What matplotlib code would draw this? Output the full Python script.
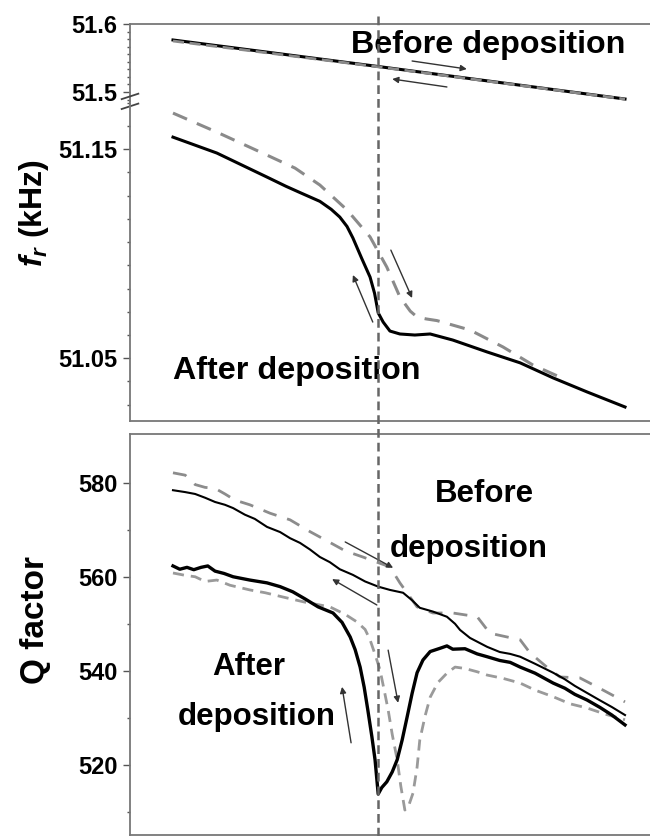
import numpy as np
import matplotlib
matplotlib.use("Agg")
import matplotlib.pyplot as plt
from matplotlib.lines import Line2D
from matplotlib.transforms import blended_transform_factory

plt.rcParams['font.family'] = ['Liberation Sans', 'DejaVu Sans']
plt.rcParams['font.weight'] = 'bold'
plt.rcParams['mathtext.fontset'] = 'custom'
plt.rcParams['mathtext.it'] = 'Liberation Sans:italic:bold'
plt.rcParams['mathtext.rm'] = 'Liberation Sans:bold'

# sweep position (arbitrary units) and transition point
x_transition = 45.4

# resonance frequency (kHz), before deposition: both sweep directions
x_fr_before = [0, 45.4, 100]
fr_before_down = [51.5765, 51.5375, 51.4897]
fr_before_up = [51.5750, 51.5370, 51.4895]

# resonance frequency (kHz), after deposition
x_fr_after_cool = [0, 9.7, 20.8, 25.0, 28.1, 32.5, 35.0, 36.9, 38.5, 39.8, 41.8,
                   43.6, 44.6, 45.4, 46.5, 47.3, 48.0, 50.2, 53.5, 56.9, 61.9,
                   69.5, 76.8, 84.1, 91.6, 100]
fr_after_cool = [51.1557, 51.1481, 51.1366, 51.1322, 51.1292, 51.1250, 51.1212,
                 51.1175, 51.1130, 51.1075, 51.0975, 51.0888, 51.0810, 51.0717,
                 51.0673, 51.0650, 51.0630, 51.0616, 51.0611, 51.0616, 51.0587,
                 51.0530, 51.0478, 51.0406, 51.0339, 51.0267]
x_fr_after_heat = [0, 9.7, 20.8, 27.0, 32.5, 38.5, 43.6, 47.3, 50.2, 52.5, 54.0,
                   56.0, 58.4, 65.7, 73.0, 79.6, 85.6]
fr_after_heat = [51.1672, 51.1581, 51.1471, 51.1409, 51.1328, 51.1209, 51.1080,
                 51.0936, 51.0793, 51.0725, 51.0697, 51.0688, 51.0680, 51.0635,
                 51.0554, 51.0468, 51.0410]

# Q factor before deposition
x_q_before_cool = [0, 2.7, 4.9, 7.1, 9.3, 11.5, 13.3, 15.9, 18.1, 20.8, 23.7, 25.9,
                   28.1, 30.3, 32.5, 34.7, 36.9, 39.8, 42.5, 45.4, 48.0, 50.9, 52.9,
                   54.6, 57.5, 60.6, 62.4, 63.5, 65.7, 69.5, 72.3, 74.6, 76.8, 80.1,
                   84.1, 86.7, 88.9, 91.6, 94.5, 97.1, 100]
q_before_cool = [578.4, 578.0, 577.6, 576.8, 575.9, 575.3, 574.6, 573.2, 572.3,
                 570.6, 569.5, 568.2, 567.2, 565.8, 564.2, 563.1, 561.6, 560.4,
                 559.0, 557.9, 557.2, 556.6, 555.0, 553.4, 552.6, 551.5, 550.0,
                 548.7, 547.0, 545.1, 544.0, 543.6, 543.0, 541.5, 539.6, 538.2,
                 536.8, 535.3, 533.7, 532.3, 530.6]
x_q_before_heat = [0, 2.7, 4.9, 7.1, 9.3, 11.5, 13.7, 17.0, 21.5, 25.9, 30.3, 34.7,
                   38.1, 42.0, 45.4, 48.0, 50.2, 54.0, 57.5, 61.9, 67.3, 70.1, 73.9,
                   76.8, 79.0, 82.7, 85.6, 90.0, 93.8, 100]
q_before_heat = [582.1, 581.6, 579.6, 579.0, 578.8, 577.6, 576.3, 575.3, 573.5,
                 572.1, 569.6, 567.3, 565.5, 564.2, 563.0, 562.1, 558.7, 553.6,
                 552.3, 552.3, 551.5, 548.0, 547.2, 546.6, 543.8, 540.8, 538.7,
                 538.5, 536.6, 533.4]

# Q factor after deposition
x_q_after_cool = [0, 1.5, 3.1, 4.6, 6.2, 7.7, 9.3, 11.3, 13.3, 17.0, 20.8, 23.7,
                  26.5, 29.2, 32.1, 35.4, 37.4, 39.2, 40.3, 41.4, 42.3, 43.1, 44.0,
                  44.7, 45.4, 46.2, 47.3, 48.5, 49.6, 50.7, 51.8, 52.9, 54.0, 55.3,
                  56.9, 59.1, 60.6, 61.9, 64.6, 67.3, 69.5, 72.3, 74.6, 76.8, 80.1,
                  84.1, 86.7, 88.9, 91.6, 94.5, 97.1, 100]
q_after_cool = [562.3, 561.6, 562.0, 561.5, 562.0, 562.3, 561.2, 560.7, 560.0,
                559.3, 558.7, 557.9, 556.8, 555.3, 553.6, 552.3, 550.3, 547.2,
                544.5, 540.8, 536.5, 531.7, 526.0, 521.1, 513.8, 515.2, 516.4,
                518.5, 521.1, 525.3, 530.2, 535.2, 539.6, 542.3, 544.1, 544.8,
                545.3, 544.6, 544.7, 543.6, 543.0, 542.2, 541.8, 540.8, 539.5,
                537.4, 536.3, 535.0, 533.8, 532.2, 530.6, 528.5]
x_q_after_heat = [0, 2.7, 4.9, 7.1, 9.7, 12.6, 17.0, 20.4, 24.3, 29.2, 34.7, 38.1,
                  40.7, 42.5, 43.6, 44.7, 45.8, 46.7, 47.6, 48.5, 49.6, 50.4, 51.3,
                  52.2, 53.1, 54.0, 54.6, 55.8, 56.9, 58.6, 60.6, 62.4, 64.6, 67.3,
                  69.5, 73.0, 76.8, 80.1, 84.1, 87.8, 91.6, 95.6, 100]
q_after_heat = [560.8, 560.3, 560.0, 559.0, 559.3, 558.2, 557.2, 556.6, 555.7,
                554.6, 553.6, 552.0, 550.4, 548.8, 546.6, 543.5, 540.2, 536.0,
                531.7, 526.5, 521.1, 515.5, 510.4, 511.5, 514.0, 519.5, 525.3,
                530.5, 534.4, 537.5, 539.5, 540.8, 540.5, 539.8, 539.1, 538.4,
                537.4, 535.9, 534.5, 533.0, 532.1, 530.8, 529.6]

fig = plt.figure(figsize=(6.5, 8.36), dpi=100)
ax_hi = fig.add_axes([0.2, 0.87799, 0.8, 0.0933])
ax_lo = fig.add_axes([0.2, 0.49641, 0.8, 0.38158])
ax_q = fig.add_axes([0.2, 0.0012, 0.8, 0.47966])

xlim = (-9.51, 105.53)
spine_col = '#777777'
for ax in (ax_hi, ax_lo, ax_q):
    ax.set_xlim(*xlim)
    ax.set_xticks([])
    ax.spines['right'].set_visible(False)
    for s in ax.spines.values():
        s.set_color(spine_col)
        s.set_linewidth(1.3)
    ax.tick_params(axis='y', which='major', direction='out', length=5, width=1,
                   color='#555555', labelsize=17, pad=4)
    ax.tick_params(axis='y', which='minor', direction='out', length=2.5, width=1,
                   color='#555555')

ax_hi.spines['bottom'].set_visible(False)
ax_lo.spines['top'].set_visible(False)

# broken frequency axis
step = 0.1 / 9
ax_hi.set_ylim(51.4853, 51.6)
ax_hi.set_yticks([51.5, 51.6], labels=['51.5', '51.6'])
ax_hi.set_yticks(51.5 + step * np.arange(-1, 10), minor=True)
ax_lo.set_ylim(51.0200, 51.1725)
ax_lo.set_yticks([51.05, 51.15], labels=['51.05', '51.15'])
ax_lo.set_yticks(51.05 + step * np.arange(-2, 12), minor=True)

ax_q.set_ylim(505.1, 590.35)
ax_q.set_yticks([520, 540, 560, 580])
ax_q.set_yticks([510, 530, 550, 570], minor=True)

for ax in (ax_hi, ax_lo, ax_q):
    for lab in ax.get_yticklabels():
        lab.set_fontweight('bold')

# break marks on the left spine
for y0 in (0.978, 1.009):
    ax_lo.plot([-0.016, 0.016], [y0, y0 + 0.017], color='#444444', lw=1.3,
               transform=ax_lo.transAxes, clip_on=False)

# frequency curves
ax_hi.plot(x_fr_before, fr_before_down, color='black', lw=2.2)
ax_hi.plot(x_fr_before, fr_before_up, color='#8a8a8a', lw=2.0, dashes=(4, 2))
ax_lo.plot(x_fr_after_heat, fr_after_heat, color='#8a8a8a', lw=2.2, dashes=(5, 3.5))
ax_lo.plot(x_fr_after_cool, fr_after_cool, color='black', lw=2.2)

# Q factor curves
ax_q.plot(x_q_before_heat, q_before_heat, color='#8c8c8c', lw=2.0, dashes=(5, 4))
ax_q.plot(x_q_before_cool, q_before_cool, color='black', lw=1.5)
ax_q.plot(x_q_after_heat, q_after_heat, color='#9a9a9a', lw=2.0, dashes=(4, 2.5))
ax_q.plot(x_q_after_cool, q_after_cool, color='black', lw=2.4)

# sweep-direction arrows
arrow = dict(arrowstyle='-|>', color='#333333', lw=1.0, mutation_scale=9,
             shrinkA=0, shrinkB=0)
ax_hi.annotate('', xy=(65.0, 51.5338), xytext=(52.9, 51.5456), arrowprops=arrow)
ax_hi.annotate('', xy=(48.5, 51.5191), xytext=(60.6, 51.5074), arrowprops=arrow)
ax_lo.annotate('', xy=(52.9, 51.0788), xytext=(48.2, 51.1017), arrowprops=arrow)
ax_lo.annotate('', xy=(39.8, 51.0898), xytext=(44.2, 51.0673), arrowprops=arrow)
ax_q.annotate('', xy=(48.7, 561.9), xytext=(38.1, 567.4), arrowprops=arrow)
ax_q.annotate('', xy=(35.2, 559.5), xytext=(45.1, 554.0), arrowprops=arrow)
ax_q.annotate('', xy=(49.8, 533.2), xytext=(47.6, 544.4), arrowprops=arrow)
ax_q.annotate('', xy=(37.4, 536.6), xytext=(39.4, 524.7), arrowprops=arrow)

# annotations
ax_hi.text(69.7, 51.5574, 'Before deposition', ha='center', va='baseline',
           fontsize=23.2, fontweight='bold')
ax_lo.text(0, 51.0401, 'After deposition', ha='left', va='baseline',
           fontsize=23.2, fontweight='bold')
ax_q.text(69.0, 575.9, 'Before', ha='center', va='baseline', fontsize=22.5,
          fontweight='bold')
ax_q.text(65.5, 564.2, 'deposition', ha='center', va='baseline', fontsize=22.5,
          fontweight='bold')
ax_q.text(16.8, 539.1, 'After', ha='center', va='baseline', fontsize=22.5,
          fontweight='bold')
ax_q.text(18.6, 528.5, 'deposition', ha='center', va='baseline', fontsize=22.5,
          fontweight='bold')

ax_lo.set_ylabel(r'$f_r$ (kHz)', fontsize=23, fontweight='bold')
ax_lo.yaxis.set_label_coords(-0.152, 0.652)
ax_q.set_ylabel('Q factor', fontsize=24, fontweight='bold')
ax_q.yaxis.set_label_coords(-0.152, 0.536)

# transition marker spanning both panels
trans = blended_transform_factory(ax_q.transData, fig.transFigure)
fig.add_artist(Line2D([x_transition, x_transition], [0, 0.9856], transform=trans,
                      color='#666666', lw=1.8, dashes=(3.5, 2)))

fig.savefig('out.png', dpi=100)
